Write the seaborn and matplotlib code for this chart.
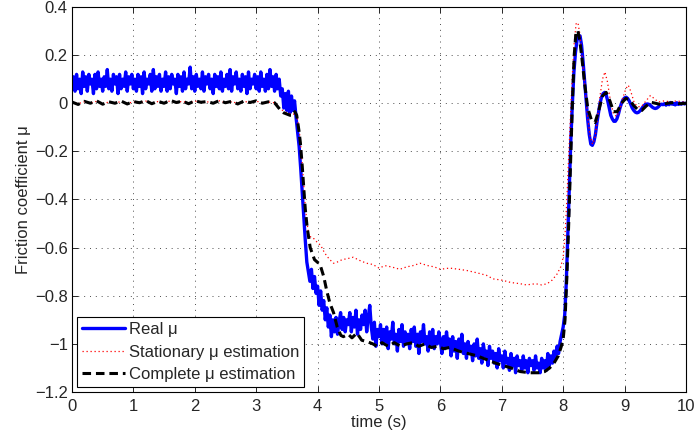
import numpy as np
import pandas as pd
import seaborn as sns
import matplotlib.pyplot as plt
from matplotlib.ticker import FuncFormatter

# Real mu, sampled every 0.025 s from t = 0 to t = 10 s (20 samples per row = 0.5 s)
real_step = 0.025
real_mu = [
    0.07, 0.11, 0.05, 0.12, 0.06, 0.10, 0.04, 0.13, 0.07, 0.11, 0.05, 0.12, 0.08, 0.10, 0.04, 0.12, 0.06, 0.13, 0.07, 0.10,
    0.05, 0.11, 0.07, 0.14, 0.06, 0.10, 0.05, 0.12, 0.08, 0.11, 0.04, 0.12, 0.06, 0.10, 0.07, 0.13, 0.05, 0.11, 0.08, 0.12,
    0.06, 0.10, 0.05, 0.12, 0.07, 0.11, 0.04, 0.13, 0.06, 0.10, 0.08, 0.12, 0.05, 0.14, 0.06, 0.11, 0.07, 0.12, 0.05, 0.10,
    0.07, 0.13, 0.05, 0.11, 0.06, 0.12, 0.08, 0.10, 0.04, 0.12, 0.07, 0.11, 0.05, 0.13, 0.06, 0.10, 0.08, 0.15, 0.06, 0.11,
    0.05, 0.12, 0.07, 0.10, 0.06, 0.13, 0.05, 0.11, 0.08, 0.12, 0.06, 0.10, 0.04, 0.12, 0.07, 0.11, 0.06, 0.13, 0.05, 0.10,
    0.07, 0.12, 0.06, 0.14, 0.05, 0.11, 0.08, 0.13, 0.06, 0.10, 0.05, 0.12, 0.07, 0.11, 0.04, 0.13, 0.06, 0.10, 0.08, 0.12,
    0.06, 0.11, 0.05, 0.13, 0.07, 0.10, 0.05, 0.12, 0.06, 0.14, 0.07, 0.11, 0.05, 0.12, 0.06, 0.10, 0.03, 0.06, -0.02, 0.04,
    -0.03, 0.05, -0.04, 0.03, -0.03, 0.01, -0.06, -0.12, -0.18, -0.27, -0.37, -0.47, -0.57, -0.66, -0.70, -0.74, -0.69, -0.77, -0.72, -0.79,
    -0.76, -0.84, -0.78, -0.86, -0.82, -0.90, -0.85, -0.93, -0.88, -0.97, -0.90, -0.95, -0.89, -0.96, -0.91, -0.87, -0.94, -0.89, -0.95, -0.90,
    -0.92, -0.87, -0.95, -0.89, -0.93, -0.86, -0.96, -0.90, -0.94, -0.88, -0.92, -0.86, -0.95, -0.89, -0.84, -0.93, -0.98, -0.91, -1.01, -0.94,
    -0.97, -0.92, -1.00, -0.94, -0.99, -0.93, -1.02, -0.95, -0.98, -0.91, -1.00, -0.96, -1.03, -0.94, -0.99, -0.92, -1.01, -0.95, -1.00, -0.96,
    -1.02, -0.94, -0.99, -0.93, -1.01, -0.96, -1.04, -0.95, -0.99, -0.92, -1.00, -0.97, -1.03, -0.95, -1.01, -0.94, -1.02, -0.97, -1.00, -0.95,
    -0.99, -1.04, -0.97, -1.02, -0.95, -1.01, -0.98, -1.05, -0.97, -1.03, -0.99, -1.06, -0.98, -1.02, -0.96, -1.04, -1.00, -1.06, -0.99, -1.03,
    -1.01, -1.07, -1.00, -1.05, -0.98, -1.06, -1.02, -1.08, -1.00, -1.05, -1.03, -1.09, -1.01, -1.06, -1.03, -1.08, -1.04, -1.10, -1.02, -1.07,
    -1.05, -1.10, -1.03, -1.08, -1.06, -1.11, -1.04, -1.09, -1.06, -1.12, -1.05, -1.09, -1.07, -1.11, -1.05, -1.10, -1.07, -1.12, -1.06, -1.09,
    -1.07, -1.11, -1.05, -1.10, -1.08, -1.12, -1.06, -1.10, -1.07, -1.11, -1.04, -1.09, -1.05, -1.08, -1.03, -1.06, -1.01, -1.04, -0.99, -0.96,
    -0.93, -0.88, -0.75, -0.55, -0.35, -0.15, 0.0, 0.13, 0.21, 0.26, 0.28, 0.28, 0.24, 0.17, 0.09, 0.01, -0.07, -0.13, -0.17, -0.175,
    -0.16, -0.13, -0.08, -0.04, 0.0, 0.025, 0.04, 0.045, 0.035, 0.01, -0.02, -0.05, -0.065, -0.075, -0.075, -0.065, -0.045, -0.02, 0.0, 0.015,
    0.022, 0.025, 0.02, 0.01, -0.005, -0.02, -0.03, -0.037, -0.04, -0.038, -0.032, -0.024, -0.015, -0.008, -0.004, -0.003, -0.005, -0.01, -0.016, -0.02,
    -0.022, -0.02, -0.015, -0.008, -0.004, -0.006, -0.002, -0.008, 0.0, -0.006, 0.003, -0.004, -0.001, -0.007, 0.002, -0.005, 0.0, -0.004, 0.002, -0.003,
    0.0,
]

# complete mu estimation
complete_t = [
    0.0, 0.1, 0.2, 0.3, 0.4, 0.5, 0.6, 0.7, 0.8, 0.9, 1.0, 1.1, 1.2, 1.3, 1.4, 1.5, 1.6,
    1.7, 1.8, 1.9, 2.0, 2.1, 2.2, 2.3, 2.4, 2.5, 2.6, 2.7, 2.8, 2.9, 3.0, 3.1, 3.2, 3.3,
    3.4, 3.45, 3.5, 3.55, 3.6, 3.63, 3.66, 3.7, 3.72, 3.75, 3.78, 3.8, 3.83, 3.88, 3.95,
    4.04, 4.1, 4.15, 4.2, 4.26, 4.32, 4.38, 4.42, 4.5, 4.56, 4.64, 4.72, 4.8, 4.9, 4.97,
    5.05, 5.15, 5.25, 5.35, 5.45, 5.55, 5.65, 5.75, 5.85, 5.95, 6.05, 6.15, 6.3, 6.45,
    6.6, 6.75, 6.9, 7.02, 7.15, 7.3, 7.45, 7.6, 7.7, 7.78, 7.85, 7.92, 7.97, 8.0, 8.03,
    8.06, 8.09, 8.12, 8.15, 8.18, 8.21, 8.24, 8.27, 8.3, 8.35, 8.4, 8.46, 8.52, 8.58,
    8.64, 8.7, 8.76, 8.82, 8.88, 8.95, 9.02, 9.08, 9.15, 9.22, 9.28, 9.35, 9.43, 9.5,
    9.6, 9.7, 9.8, 9.9, 10.0,
]
complete_mu = [
    0.005, -0.005, 0.008, 0.0, 0.01, -0.004, 0.006, 0.0, 0.009, -0.003, 0.007, 0.002, 0.011, -0.002, 0.008, 0.0, 0.012,
    0.003, 0.009, -0.002, 0.01, 0.004, 0.007, 0.0, 0.011, 0.002, 0.008, -0.003, 0.009, 0.003, 0.01, 0.0, 0.006, 0.002,
    -0.03, -0.04, -0.045, -0.05, -0.05, -0.035, -0.05, -0.12, -0.165, -0.26, -0.37, -0.44, -0.515, -0.6, -0.65,
    -0.67, -0.72, -0.78, -0.83, -0.87, -0.93, -0.965, -0.97, -0.96, -0.975, -0.955, -0.985, -0.99, -1.0, -1.01,
    -0.995, -1.01, -0.995, -1.01, -1.0, -0.995, -1.01, -1.0, -1.015, -1.01, -1.02, -1.015, -1.03, -1.04,
    -1.05, -1.065, -1.08, -1.09, -1.1, -1.115, -1.12, -1.12, -1.115, -1.1, -1.08, -1.05, -1.01, -0.98, -0.9,
    -0.72, -0.5, -0.25, 0.0, 0.2, 0.3, 0.3, 0.26, 0.2, 0.08, -0.02, -0.07, -0.08, -0.03,
    0.03, 0.045, 0.01, -0.035, -0.035, 0.0, 0.02, 0.015, -0.01, -0.028, -0.03, -0.012, 0.004, 0.0,
    -0.006, 0.0, 0.003, -0.002, 0.0,
]

# stationary mu estimation
stationary_t = [
    0.0, 0.1, 0.2, 0.3, 0.4, 0.5, 0.6, 0.7, 0.8, 0.9, 1.0, 1.1, 1.2, 1.3, 1.4, 1.5, 1.6,
    1.7, 1.8, 1.9, 2.0, 2.1, 2.2, 2.3, 2.4, 2.5, 2.6, 2.7, 2.8, 2.9, 3.0, 3.1, 3.2, 3.3,
    3.4, 3.5, 3.6, 3.66, 3.7, 3.72, 3.75, 3.78, 3.8, 3.83, 3.86, 3.9, 3.95, 4.0, 4.05,
    4.1, 4.15, 4.2, 4.26, 4.32, 4.4, 4.5, 4.58, 4.7, 4.8, 4.9, 5.0, 5.1, 5.2, 5.34,
    5.45, 5.55, 5.67, 5.8, 5.9, 6.0, 6.15, 6.3, 6.43, 6.6, 6.75, 6.86, 7.0, 7.15, 7.3,
    7.4, 7.55, 7.65, 7.74, 7.82, 7.9, 7.96, 8.0, 8.03, 8.06, 8.09, 8.12, 8.15, 8.18,
    8.21, 8.24, 8.27, 8.3, 8.35, 8.4, 8.44, 8.48, 8.52, 8.56, 8.6, 8.64, 8.68, 8.72,
    8.77, 8.82, 8.87, 8.92, 8.97, 9.02, 9.06, 9.1, 9.16, 9.22, 9.28, 9.35, 9.42, 9.48,
    9.55, 9.65, 9.75, 9.85, 9.95, 10.0,
]
stationary_mu = [
    0.003, -0.002, 0.006, 0.001, 0.008, -0.002, 0.005, 0.001, 0.007, -0.001, 0.006, 0.002, 0.009, 0.0, 0.007, 0.001, 0.01,
    0.003, 0.008, 0.0, 0.009, 0.004, 0.006, 0.001, 0.01, 0.002, 0.007, -0.001, 0.008, 0.003, 0.009, 0.001, 0.005, 0.002,
    -0.025, -0.04, -0.045, -0.045, -0.11, -0.16, -0.25, -0.36, -0.43, -0.5, -0.555, -0.555, -0.565, -0.58, -0.59,
    -0.615, -0.635, -0.65, -0.665, -0.66, -0.65, -0.645, -0.64, -0.655, -0.665, -0.67, -0.685, -0.675, -0.68, -0.69,
    -0.68, -0.675, -0.665, -0.675, -0.68, -0.69, -0.685, -0.69, -0.695, -0.705, -0.715, -0.73, -0.735, -0.745, -0.75,
    -0.755, -0.75, -0.755, -0.75, -0.735, -0.71, -0.68, -0.64, -0.55, -0.4, -0.22, -0.05, 0.12, 0.25,
    0.33, 0.335, 0.29, 0.22, 0.08, -0.06, -0.14, -0.17, -0.14, -0.06, 0.03, 0.1, 0.13, 0.09,
    0.01, -0.045, -0.055, -0.03, 0.02, 0.06, 0.075, 0.05, 0.0, -0.015, -0.012, 0.01, 0.032, 0.02,
    0.005, 0.01, 0.005, 0.01, 0.005, 0.008,
]

real_t = np.arange(len(real_mu)) * real_step
real_df = pd.DataFrame({'t': real_t, 'mu': real_mu})
stat_df = pd.DataFrame({'t': stationary_t, 'mu': stationary_mu})
comp_df = pd.DataFrame({'t': complete_t, 'mu': complete_mu})

sns.set_style('white')
plt.rcParams['font.family'] = ['Liberation Sans', 'DejaVu Sans']
plt.rcParams['axes.unicode_minus'] = True

fig = plt.figure(figsize=(6.96, 4.36), dpi=100)
ax = fig.add_axes([0.1034, 0.1009, 0.8822, 0.8831])

sns.lineplot(data=real_df, x='t', y='mu', ax=ax, color='#0000ff', lw=2.4, label='Real μ')
sns.lineplot(data=stat_df, x='t', y='mu', ax=ax, color='#ff0000', lw=0.9,
             linestyle=(0, (1, 2.2)), label='Stationary μ estimation')
sns.lineplot(data=comp_df, x='t', y='mu', ax=ax, color='k', lw=2.2,
             linestyle=(0, (2.8, 1.6)), label='Complete μ estimation')

ax.set_xlim(0, 10)
ax.set_ylim(-1.2, 0.4)
ax.set_xticks(range(0, 11))
ax.set_yticks([-1.2, -1.0, -0.8, -0.6, -0.4, -0.2, 0.0, 0.2, 0.4])
fmt = FuncFormatter(lambda v, p: ('%g' % round(v, 2)).replace('-', '\u2212'))
ax.xaxis.set_major_formatter(fmt)
ax.yaxis.set_major_formatter(fmt)
ax.tick_params(direction='in', length=4, width=0.7, labelsize=12,
               top=True, right=True, bottom=True, left=True, pad=3)
ax.tick_params(axis='x', pad=5)
ax.grid(True, linestyle=(0, (1, 5)), color='0.3', linewidth=0.7)
for s in ax.spines.values():
    s.set_color('k')
    s.set_linewidth(0.8)

ax.set_xlabel('time (s)', fontsize=12, labelpad=1)
ax.set_ylabel('Friction coefficient μ', fontsize=12, labelpad=3)

leg = ax.legend(loc='lower left', fontsize=12, frameon=True, fancybox=False,
                edgecolor='k', framealpha=1, handlelength=2.6, handletextpad=0.2,
                labelspacing=0.45, borderaxespad=0.3, borderpad=0.3)
leg.get_frame().set_linewidth(0.8)

fig.savefig('out.png', dpi=100)
